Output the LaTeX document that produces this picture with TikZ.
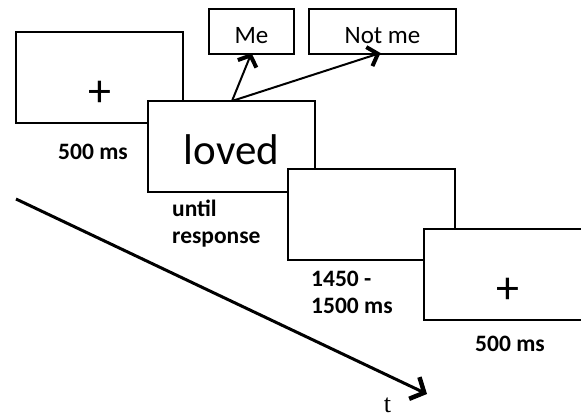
\documentclass[tikz,border=0pt]{standalone}
\usepackage{fontspec}
\setmainfont{Carlito}
\newfontfamily\tfont{Liberation Serif}
\usetikzlibrary{arrows.meta}

\tikzset{
  screen/.style={draw, fill=white, line width=2pt, minimum width=167pt, minimum height=91pt, inner sep=0pt},
  keybox/.style={draw, fill=white, line width=2pt, minimum height=45pt, inner sep=0pt, font=\fontsize{25}{29}\selectfont},
  dur/.style={font=\fontsize{23.5}{27}\selectfont\bfseries, align=left, inner sep=0pt},
  choice/.style={line width=2pt, -{Straight Barb[length=9pt, width=20pt, line width=4pt]}}
}
\newcommand{\lowtext}[2]{\smash{\raisebox{#1}{#2}}}

\begin{document}
\begin{tikzpicture}[x=1pt, y=-1pt]
				\useasboundingbox (0,0) rectangle (581,418);
				
				% Ось времени
				\coordinate (T0) at (16,199);
				\coordinate (T1) at (427,394);
				\draw[line width=3pt, -{Straight Barb[length=11pt, width=24pt, line width=4.5pt]}] (T0) -- (T1);
				\node[font=\tfont\fontsize{26}{30}\selectfont, anchor=base, inner sep=0pt] (t) at (387.5,412) {t};
				
				% Экраны
				\node[screen, font=\fontsize{46}{50}\selectfont] (fix1) at (99.5,77.5) {\lowtext{-29pt}{+}};
				\node[screen, font=\fontsize{43}{48}\selectfont] (word) at (231.5,146.5) {\lowtext{-17.5pt}{loved}};
				\node[screen] (blank) at (371.5,214) {};
				\node[screen, font=\fontsize{46}{50}\selectfont] (fix2) at (507.5,274.5) {\lowtext{-29pt}{+}};
				
				% Варианты ответа
				\node[keybox, minimum width=85pt] (me) at (251.5,31.5) {\lowtext{-11.5pt}{Me}};
				\node[keybox, minimum width=147pt] (notme) at (382.5,31.5) {\lowtext{-11.5pt}{Not me}};
				\coordinate (W) at (232,101);
				\draw[choice] (W) -- ([yshift=2pt]me.south);
				\draw[choice] (W) -- ([xshift=-2pt, yshift=2pt]notme.south);
				
				% Подписи длительностей
				\node[dur] (d1) at (93,152) {500 ms};
				\node[dur, anchor=north west] (d2) at (172,200) {until\\response};
				\node[dur, anchor=north west] (d3) at (311,271) {1450 -\\1500 ms};
				\node[dur] (d4) at (510,344) {500 ms};
			\end{tikzpicture}
\end{document}
